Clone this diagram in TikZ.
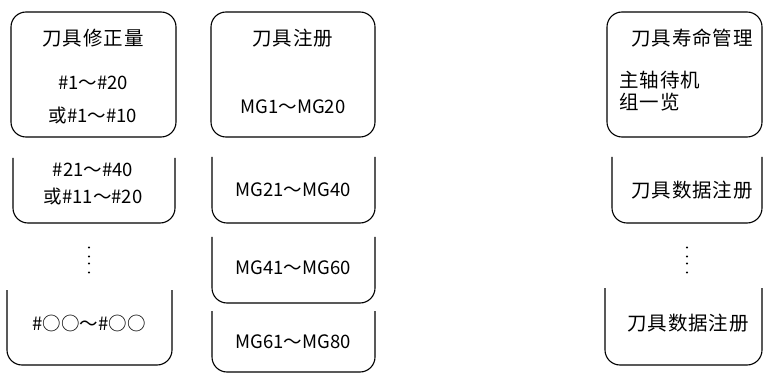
\documentclass[tikz,border=0pt]{standalone}
\usepackage{fontspec}
\newfontfamily\cjk{Noto Sans CJK SC}
\newfontfamily\cjkwide[LetterSpace=5]{Noto Sans CJK SC}
\usetikzlibrary{positioning}

\begin{document}
\begin{tikzpicture}[x=1pt,y=-1pt,
  lbl/.style={font=\cjk\fontsize{18.5}{20}\selectfont,inner sep=0pt},
  lblzh/.style={font=\cjkwide\fontsize{19.5}{21}\selectfont,inner sep=0pt},
  box/.style={line width=1.1pt,rounded corners=15pt}]
\useasboundingbox (0,0) rectangle (763,374);
% colonne 1 : correction outil
\draw[box] (11,12) rectangle (176,137);
\draw[box] (13,158) -- (13,223) -- (175,223) -- (175,158);
\draw[box] (7,290) -- (7,365) -- (172,365) -- (172,290);
\node (corTitre) at (93,38) [lblzh] {刀具修正量};
\node (cor1) at (93,83) [lbl] {\#1～\#20};
\node (cor1b) at (93,115) [lbl] {或\#1～\#10};
\node (cor2) at (93,170) [lbl] {\#21～\#40};
\node (cor2b) at (93,196) [lbl] {或\#11～\#20};
\node (corN) at (89,323) [lbl] {\#○○～\#○○};
\foreach \y in {247.5,256.5,263.5,272.5}
  \fill (89,\y) circle (1.1pt);
% colonne 2 : enregistrement outil
\draw[box] (211,12) rectangle (375,137);
\draw[box] (212,157) -- (212,223) -- (375,223) -- (375,157);
\draw[box] (212,237) -- (212,303) -- (375,303) -- (375,237);
\draw[box] (212,311) -- (212,372) -- (375,372) -- (375,311);
\node (regTitre) at (293,38) [lblzh] {刀具注册};
\node (reg1) at (293,107) [lbl] {MG1～MG20};
\node (reg2) at (293,190) [lbl] {MG21～MG40};
\node (reg3) at (293,268) [lbl] {MG41～MG60};
\node (reg4) at (293,342) [lbl] {MG61～MG80};
% colonne 3 : gestion duree de vie
\draw[box] (607,12) rectangle (762,137);
\draw[box] (612,157) -- (612,223) -- (762,223) -- (762,157);
\draw[box] (605,288) -- (605,365) -- (762,365) -- (762,288);
\node (vieTitre) at (692,38) [lblzh] {刀具寿命管理};
\node (vie1) at (619,80) [lblzh,anchor=west] {主轴待机};
\node (vie1b) at (619,102) [lblzh,anchor=west] {组一览};
\node (vie2) at (692,190) [lblzh] {刀具数据注册};
\node (vieN) at (688,323) [lblzh] {刀具数据注册};
\foreach \y in {247.5,256.5,263.5,272.5}
  \fill (687,\y) circle (1.1pt);
\end{tikzpicture}
\end{document}
